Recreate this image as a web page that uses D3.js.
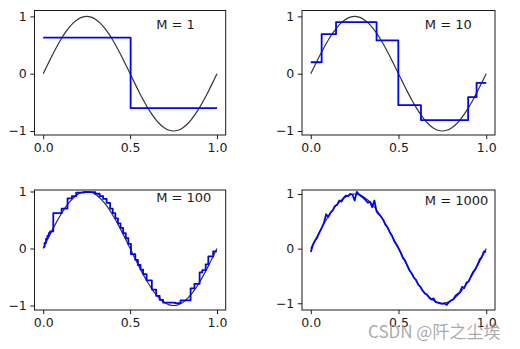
<!DOCTYPE html>
<html>
<head>
<meta charset="utf-8">
<script src="https://cdn.jsdelivr.net/npm/d3@7"></script>
<style>
  html, body { margin: 0; padding: 0; background: #fff; }
  svg { display: block; }
</style>
</head>
<body>
<svg id="chart" width="520" height="349"></svg>
<script>
// Reference curve sin(2πx), sampled values
const curveX = [0, 0.025, 0.05, 0.075, 0.1, 0.125, 0.15, 0.175, 0.2, 0.225, 0.25,
  0.275, 0.3, 0.325, 0.35, 0.375, 0.4, 0.425, 0.45, 0.475, 0.5,
  0.525, 0.55, 0.575, 0.6, 0.625, 0.65, 0.675, 0.7, 0.725, 0.75,
  0.775, 0.8, 0.825, 0.85, 0.875, 0.9, 0.925, 0.95, 0.975, 1.0];
const curveY = [0, 0.156, 0.309, 0.454, 0.588, 0.707, 0.809, 0.891, 0.951, 0.988, 1.0,
  0.988, 0.951, 0.891, 0.809, 0.707, 0.588, 0.454, 0.309, 0.156, 0,
  -0.156, -0.309, -0.454, -0.588, -0.707, -0.809, -0.891, -0.951, -0.988, -1.0,
  -0.988, -0.951, -0.891, -0.809, -0.707, -0.588, -0.454, -0.309, -0.156, 0];

// Piecewise-constant fits: step edges and level of each step
const m1Edges = [0, 0.503, 1.0];
const m1Levels = [0.63, -0.60];

const m10Edges = [0, 0.062, 0.144, 0.375, 0.499, 0.628, 0.897, 0.945, 1.0];
const m10Levels = [0.20, 0.69, 0.90, 0.58, -0.55, -0.81, -0.41, -0.16];

const m100Edges = [0, 0.008, 0.016, 0.024, 0.032, 0.040, 0.058, 0.106, 0.140, 0.165, 0.190,
  0.235, 0.300, 0.325, 0.345, 0.365, 0.385, 0.400, 0.415, 0.430, 0.445, 0.460, 0.475,
  0.490, 0.505, 0.530, 0.545, 0.560, 0.575, 0.595, 0.625, 0.650, 0.670, 0.690, 0.760,
  0.790, 0.848, 0.870, 0.900, 0.915, 0.935, 0.950, 0.978, 1.0];
const m100Levels = [0.03, 0.10, 0.17, 0.22, 0.27, 0.30, 0.62, 0.70, 0.88, 0.92,
  0.98, 0.99, 0.96, 0.92, 0.87, 0.80, 0.70, 0.62, 0.53, 0.44, 0.36, 0.27, 0.18,
  0.08, -0.10, -0.20, -0.29, -0.37, -0.45, -0.56, -0.72, -0.83, -0.90, -0.95,
  -0.96, -0.91, -0.70, -0.62, -0.42, -0.38, -0.28, -0.14, -0.05];

// Fit with M = 1000 follows the samples closely
const m1000X = [0, 0.0125, 0.025, 0.0375, 0.05, 0.0625, 0.075, 0.0875, 0.1, 0.1125, 0.125,
  0.1375, 0.15, 0.1625, 0.175, 0.1875, 0.2, 0.2125, 0.225, 0.2375, 0.25,
  0.2625, 0.275, 0.2875, 0.3, 0.3125, 0.325, 0.3375, 0.35, 0.3625, 0.375,
  0.3875, 0.4, 0.4125, 0.425, 0.4375, 0.45, 0.4625, 0.475, 0.4875, 0.5,
  0.5125, 0.525, 0.5375, 0.55, 0.5625, 0.575, 0.5875, 0.6, 0.6125, 0.625,
  0.6375, 0.65, 0.6625, 0.675, 0.6875, 0.7, 0.7125, 0.725, 0.7375, 0.75,
  0.7625, 0.775, 0.7875, 0.8, 0.8125, 0.825, 0.8375, 0.85, 0.8625, 0.875,
  0.8875, 0.9, 0.9125, 0.925, 0.9375, 0.95, 0.9625, 0.975, 0.9875, 1.0];
const m1000Y = [-0.06, 0.07, 0.15, 0.21, 0.30, 0.38, 0.47, 0.63, 0.58, 0.66, 0.70,
  0.78, 0.80, 0.88, 0.86, 0.93, 0.97, 0.96, 1.0, 0.99, 0.88,
  1.04, 0.99, 0.96, 0.93, 0.89, 0.84, 0.86, 0.76, 0.88, 0.68,
  0.63, 0.59, 0.53, 0.44, 0.39, 0.30, 0.24, 0.14, 0.08, 0.01,
  -0.07, -0.17, -0.22, -0.31, -0.40, -0.45, -0.53, -0.57, -0.66, -0.70,
  -0.77, -0.82, -0.84, -0.90, -0.93, -0.91, -0.98, -0.99, -1.0, -1.01,
  -1.0, -1.03, -0.98, -0.95, -0.93, -0.86, -0.83, -0.80, -0.70, -0.72,
  -0.62, -0.60, -0.51, -0.43, -0.38, -0.30, -0.20, -0.15, -0.05, -0.06];

const xTicks = [0, 0.5, 1.0];
const xTickLabels = ["0.0", "0.5", "1.0"];
const yTicks = [-1, 0, 1];
const yTickLabels = ["\u22121", "0", "1"];
const panelTitles = ["M = 1", "M = 10", "M = 100", "M = 1000"];

function stepPoints(edges, levels) {
  const pts = levels.map((v, i) => [edges[i], v]);
  pts.push([edges[edges.length - 1], levels[levels.length - 1]]);
  return pts;
}

const panels = [
  { box: [34.5, 10.5, 225.7, 135], y: [-1.07, 1.103], title: panelTitles[0],
    fit: stepPoints(m1Edges, m1Levels), step: true, ty: 0.78 },
  { box: [302, 10.5, 495, 135], y: [-1.07, 1.103], title: panelTitles[1],
    fit: stepPoints(m10Edges, m10Levels), step: true, ty: 0.78 },
  { box: [34.5, 190, 225.7, 310], y: [-1.079, 1.026], title: panelTitles[2],
    fit: stepPoints(m100Edges, m100Levels), step: true, ty: 0.815 },
  { box: [302, 190, 495, 310], y: [-1.123, 1.073], title: panelTitles[3],
    fit: m1000X.map((x, i) => [x, m1000Y[i]]), step: false, ty: 0.8 }
];

const svg = d3.select("#chart");
const font = "DejaVu Sans, sans-serif";
const ink = "#1a1a1a";

panels.forEach((p, idx) => {
  const [l, t, r, b] = p.box;
  const x = d3.scaleLinear().domain([-0.05, 1.05]).range([l, r]);
  const y = d3.scaleLinear().domain(p.y).range([b, t]);
  const g = svg.append("g");

  const clipId = "clip" + idx;
  g.append("clipPath").attr("id", clipId)
    .append("rect").attr("x", l).attr("y", t).attr("width", r - l).attr("height", b - t);

  const plot = g.append("g").attr("clip-path", `url(#${clipId})`);

  // sine reference
  plot.append("path")
    .datum(curveX.map((v, i) => [v, curveY[i]]))
    .attr("fill", "none")
    .attr("stroke", "#000")
    .attr("stroke-opacity", 0.8)
    .attr("stroke-width", 1.2)
    .attr("d", d3.line().x(d => x(d[0])).y(d => y(d[1])).curve(d3.curveCatmullRom));

  // fitted model
  plot.append("path")
    .datum(p.fit)
    .attr("fill", "none")
    .attr("stroke", "#0000ff")
    .attr("stroke-width", 1.8)
    .attr("stroke-linejoin", "round")
    .attr("d", d3.line().x(d => x(d[0])).y(d => y(d[1]))
      .curve(p.step ? d3.curveStepAfter : d3.curveLinear));

  // axes
  const xAxis = d3.axisBottom(x).tickValues(xTicks)
    .tickFormat((d, i) => xTickLabels[i]).tickSizeOuter(0).tickSize(4.2).tickPadding(3.5);
  const yAxis = d3.axisLeft(y).tickValues(yTicks)
    .tickFormat((d, i) => yTickLabels[i]).tickSizeOuter(0).tickSize(4.2).tickPadding(3.5);

  const gx = g.append("g").attr("transform", `translate(0,${b})`).call(xAxis);
  const gy = g.append("g").attr("transform", `translate(${l},0)`).call(yAxis);
  [gx, gy].forEach(a => {
    a.select(".domain").remove();
    a.selectAll(".tick line").attr("stroke", ink).attr("stroke-width", 1);
    a.selectAll(".tick text").attr("fill", ink)
      .attr("font-family", font).attr("font-size", 12.5);
  });

  // frame
  g.append("rect")
    .attr("x", l).attr("y", t).attr("width", r - l).attr("height", b - t)
    .attr("fill", "none").attr("stroke", ink).attr("stroke-width", 1);

  // panel label
  g.append("text")
    .attr("x", x(0.65)).attr("y", y(p.ty))
    .attr("font-family", font).attr("font-size", 13).attr("fill", ink)
    .text(p.title);
});

// watermark
svg.append("text")
  .attr("x", 368).attr("y", 338)
  .attr("font-family", "Noto Sans CJK SC, DejaVu Sans, sans-serif")
  .attr("font-size", 17)
  .attr("fill", "#9a9a9a")
  .attr("fill-opacity", 0.85)
  .text("CSDN @阡之尘埃");
</script>
</body>
</html>
